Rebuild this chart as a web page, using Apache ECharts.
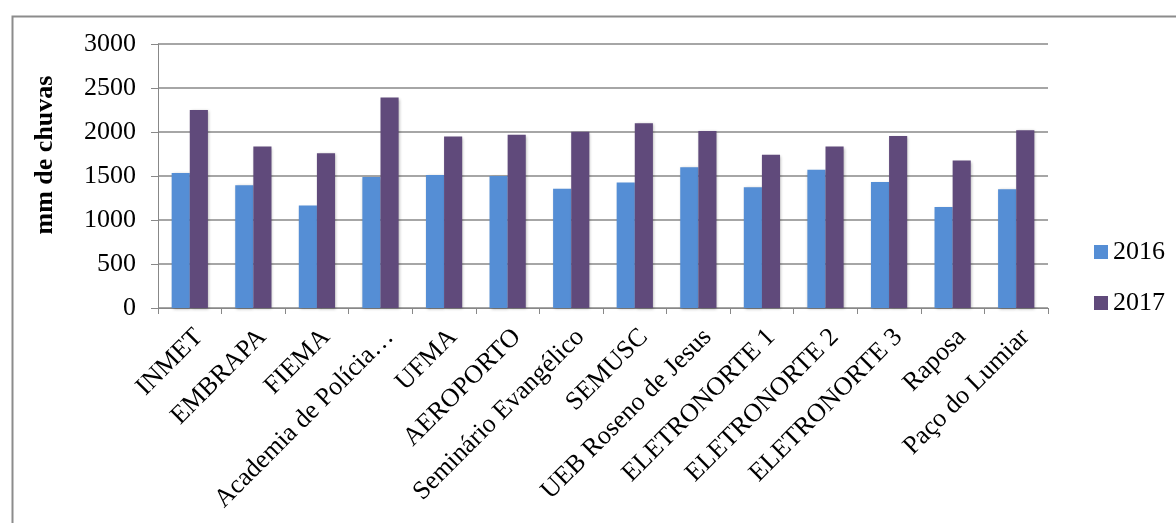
<!DOCTYPE html>
<html>
<head>
<meta charset="utf-8">
<script src="https://cdn.jsdelivr.net/npm/echarts@6/dist/echarts.min.js"></script>
<style>
html,body{margin:0;padding:0;background:#fff;}
#chart{width:1176px;height:523px;}
</style>
</head>
<body>
<div id="chart"></div>
<script>
const categories = ["INMET","EMBRAPA","FIEMA","Academia de Polícia…","UFMA","AEROPORTO","Seminário Evangélico","SEMUSC","UEB Roseno de Jesus","ELETRONORTE 1","ELETRONORTE 2","ELETRONORTE 3","Raposa","Paço do Lumiar"];
const values2016 = [1534,1394,1164,1489,1511,1500,1356,1425,1599,1371,1572,1432,1148,1349];
const values2017 = [2250,1834,1758,2391,1948,1970,2004,2099,2011,1742,1834,1955,1675,2019];
const seriesNames = ["2016","2017"];
const yTicks = {min:0,max:3000,interval:500};
const yTitle = "mm de chuvas";

const FONT = "'Liberation Serif','Times New Roman',serif";
const chart = echarts.init(document.getElementById('chart'));
const axisGray = '#888888';
chart.setOption({
  animation:false,
  backgroundColor:'#ffffff',
  grid:{left:158,right:128,top:44,bottom:215,containLabel:false},
  legend:{
    orient:'vertical',
    left:1089,top:234,
    itemWidth:14,itemHeight:14,itemGap:25,
    icon:'rect',
    textStyle:{fontFamily:FONT,fontSize:26,color:'#000',padding:[0,0,0,0]},
    data:seriesNames
  },
  xAxis:{
    type:'category',
    data:categories,
    axisLine:{lineStyle:{color:axisGray,width:1}},
    axisTick:{show:true,length:6,alignWithLabel:false,lineStyle:{color:axisGray}},
    axisLabel:{rotate:45,interval:0,margin:16,verticalAlign:'top',fontFamily:FONT,fontSize:26,color:'#000'}
  },
  yAxis:{
    type:'value',
    min:yTicks.min,max:yTicks.max,interval:yTicks.interval,
    axisLine:{show:true,lineStyle:{color:axisGray,width:1}},
    axisTick:{show:true,length:7,lineStyle:{color:axisGray}},
    axisLabel:{margin:22,fontFamily:FONT,fontSize:26,color:'#000',formatter:function(v){return String(v);}},
    splitLine:{show:true,lineStyle:{color:axisGray,width:1.5}}
  },
  series:[
    {name:seriesNames[0],type:'bar',data:values2016,barGap:'0%',barCategoryGap:'43%',
     itemStyle:{color:'#558ED5',shadowBlur:3,shadowColor:'rgba(0,0,0,0.3)',shadowOffsetX:1,shadowOffsetY:1}},
    {name:seriesNames[1],type:'bar',data:values2017,barGap:'0%',barCategoryGap:'43%',
     itemStyle:{color:'#604A7B',shadowBlur:3,shadowColor:'rgba(0,0,0,0.3)',shadowOffsetX:1,shadowOffsetY:1}}
  ],
  graphic:[
    {type:'rect',left:10,top:14,shape:{width:1200,height:560},style:{fill:'none',stroke:'#8c8c8c',lineWidth:2},silent:true,z:-1},
    {type:'text',x:45,y:155,rotation:Math.PI/2,
     style:{text:yTitle,fontFamily:FONT,fontSize:26,fontWeight:'bold',fill:'#000',align:'center',verticalAlign:'middle'}}
  ]
});
</script>
</body>
</html>
